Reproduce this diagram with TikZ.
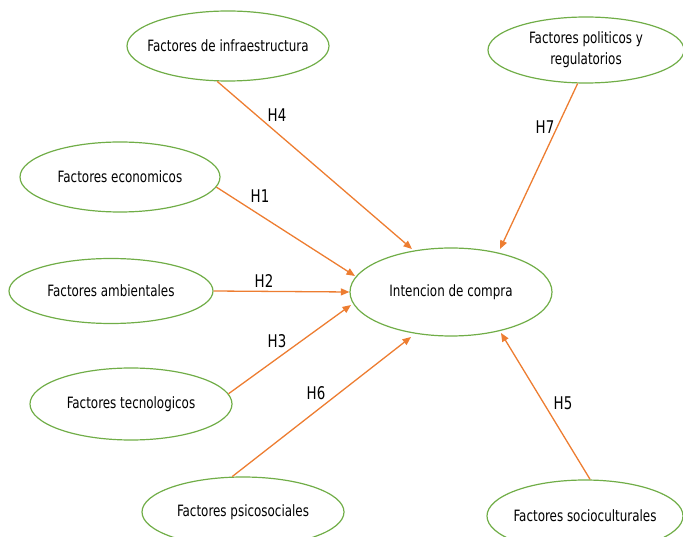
\documentclass[tikz,border=0pt]{standalone}
\usepackage{fontspec}
\setmainfont{DejaVu Sans Condensed}[FakeStretch=0.85]
\usetikzlibrary{arrows.meta,shapes.geometric}
\definecolor{egreen}{HTML}{70AD47}
\definecolor{aorange}{HTML}{ED7D31}
\newcommand{\zw}[1]{\makebox[0pt][c]{#1}}
\begin{document}
\begin{tikzpicture}[x=1pt,y=-1pt,
  factor/.style={draw=egreen,line width=1.2pt,ellipse,inner sep=0pt,font=\fontsize{15.6}{21}\selectfont,align=center},
  link/.style={draw=aorange,line width=1.3pt,-{Triangle[length=8.5pt,width=7pt]}},
  hlabel/.style={font=\fontsize{17.5}{19}\selectfont}]
\useasboundingbox (0,0) rectangle (683,537);
\begin{scope}
\clip (0,0) rectangle (683,537);
\node[factor,minimum width=202pt,minimum height=70pt] (infra) at (228,46) {\zw{Factores de infraestructura}};
\node[factor,minimum width=196pt,minimum height=66pt] (poli) at (586,50) {\zw{Factores politicos y}\\\zw{regulatorios}};
\node[factor,minimum width=200pt,minimum height=70pt] (eco) at (120,177) {\zw{Factores economicos}};
\node[factor,minimum width=204pt,minimum height=65pt] (amb) at (111,291) {\zw{Factores ambientales}};
\node[factor,minimum width=202pt,minimum height=72pt] (tec) at (131,404) {\zw{Factores tecnologicos}};
\node[factor,minimum width=202pt,minimum height=88pt] (int) at (451,292) {\zw{Intencion de compra}};
\node[factor,minimum width=202pt,minimum height=70pt] (psi) at (243,512) {\zw{Factores psicosociales}};
\node[factor,minimum width=196pt,minimum height=72pt] (soc) at (585,516) {\zw{Factores socioculturales}};
\end{scope}
\coordinate (e4) at (412,249);
\coordinate (e7) at (500,249);
\coordinate (e1) at (355,276);
\coordinate (e3) at (351,305);
\coordinate (e6) at (411,337);
\coordinate (e5) at (501,333);
\draw[link] (infra.-107) -- (e4);
\draw[link] (poli.-104) -- (e7);
\draw[link] (eco.-6) -- (e1);
\draw[link] (amb.east) -- (int.west);
\draw[link] (tec.6) -- (e3);
\draw[link] (psi.107) -- (e6);
\draw[link] (soc.82) -- (e5);
\node[hlabel] (h4) at (277,115) {H4};
\node[hlabel] (h7) at (545,127) {H7};
\node[hlabel] (h1) at (260,196) {H1};
\node[hlabel] (h2) at (264,281) {H2};
\node[hlabel] (h3) at (277,341) {H3};
\node[hlabel] (h6) at (316,393) {H6};
\node[hlabel] (h5) at (563,403) {H5};
\end{tikzpicture}
\end{document}
